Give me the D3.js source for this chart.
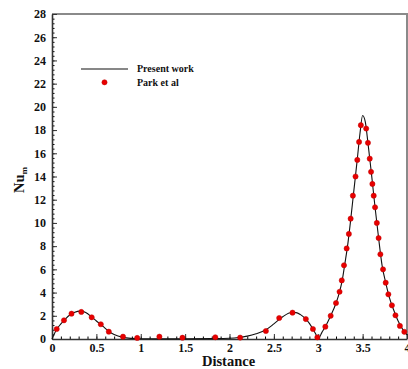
<!DOCTYPE html>
<html>
<head>
    <title>Nu_m vs Distance</title>
    <style type="text/css">
        body { margin: 0; background: #fff; }
        svg text {
            font-family: "Liberation Serif", "Times New Roman", serif;
            font-weight: bold;
        }
    </style>
</head>
<body>
    <script src="https://d3js.org/d3.v7.min.js" type="text/javascript"></script>
    <script type="text/javascript">

        // present work (solid line)
        var curveX = [0, 0.05, 0.1, 0.15, 0.2, 0.25, 0.32, 0.38, 0.45, 0.5, 0.55, 0.6, 0.65, 0.7, 0.8, 0.9, 1.0, 1.5, 1.8, 2.0,
            2.1, 2.2, 2.3, 2.4, 2.5, 2.6, 2.7, 2.75, 2.8, 2.86, 2.9, 2.94, 2.97, 3.0, 3.04, 3.08, 3.14, 3.2, 3.24, 3.27,
            3.3, 3.33, 3.36, 3.4, 3.44, 3.47, 3.5, 3.53, 3.56, 3.6, 3.64, 3.68, 3.72, 3.76, 3.8, 3.85, 3.9, 3.95, 4.0];
        var curveY = [0, 0.8, 1.3, 1.72, 2.07, 2.28, 2.4, 2.28, 1.88, 1.55, 1.25, 0.92, 0.6, 0.38, 0.14, 0.05, 0.02, 0.01, 0.03, 0.07,
            0.13, 0.25, 0.45, 0.75, 1.3, 1.92, 2.28, 2.27, 2.1, 1.72, 1.35, 0.86, 0.45, 0.02, 0.55, 1.06, 2.0, 3.08, 4.06, 5.05,
            6.5, 8.0, 9.9, 12.7, 15.5, 17.7, 19.25, 18.7, 16.9, 14.2, 11.35, 8.7, 6.3, 4.85, 3.6, 2.5, 1.55, 0.85, 0.35];

        // Park et al (red dots)
        var parkX = [0.053, 0.135, 0.22, 0.33, 0.447, 0.55, 0.64, 0.8, 0.96, 1.21, 1.47, 1.84, 2.12,
            2.41, 2.56, 2.71, 2.86, 2.94, 2.99, 3.08, 3.14, 3.2, 3.24, 3.265, 3.29, 3.32, 3.345, 3.365, 3.39,
            3.42, 3.44, 3.46, 3.48, 3.54, 3.56, 3.58, 3.595, 3.61, 3.625, 3.64, 3.66, 3.68, 3.7, 3.73, 3.76,
            3.79, 3.83, 3.87, 3.92, 3.97];
        var parkY = [0.86, 1.61, 2.18, 2.33, 1.87, 1.27, 0.63, 0.2, 0.09, 0.2, 0.11, 0.15, 0.12,
            0.69, 1.81, 2.27, 1.72, 0.86, 0.14, 1.06, 2.0, 3.1, 4.07, 5.05, 6.35, 7.8, 9.05, 10.37, 12.35,
            14.0, 15.43, 16.98, 18.42, 18.13, 16.9, 15.54, 14.4, 13.36, 12.35, 11.35, 10.0, 8.7, 7.3, 6.0, 4.85,
            3.85, 2.9, 2.04, 1.13, 0.62];

        var xTicks = [0, 0.5, 1, 1.5, 2, 2.5, 3, 3.5, 4];
        var yTicks = [0, 2, 4, 6, 8, 10, 12, 14, 16, 18, 20, 22, 24, 26, 28];

        var W = 408, H = 369;
        var m = { left: 52, right: 1, top: 14, bottom: 30 };

        var svg = d3.select('body').append('svg')
            .attr('width', W)
            .attr('height', H);

        var x = d3.scaleLinear().domain([0, 4]).range([m.left, W - m.right]);
        var y = d3.scaleLinear().domain([0, 28]).range([H - m.bottom, m.top]);

        // top / right frame
        svg.append('path')
            .attr('d', 'M' + x(0) + ',' + y(28) + 'H' + x(4) + 'V' + y(0))
            .attr('fill', 'none')
            .attr('stroke', '#8a8a8a')
            .attr('stroke-width', 2);

        // minor ticks
        var xMinor = d3.range(0, 4.0001, 0.1).map(function (d) { return +d.toFixed(2); });
        var yMinor = d3.range(0, 28.0001, 0.4).map(function (d) { return +d.toFixed(2); });

        svg.append('g')
            .attr('transform', 'translate(0,' + y(0) + ')')
            .call(d3.axisBottom(x).tickValues(xMinor).tickSize(-2.5).tickFormat(''))
            .call(function (g) { g.select('.domain').remove(); });
        svg.append('g')
            .attr('transform', 'translate(' + x(0) + ',0)')
            .call(d3.axisLeft(y).tickValues(yMinor).tickSize(-2.5).tickFormat(''))
            .call(function (g) { g.select('.domain').remove(); });

        // major axes
        var gx = svg.append('g')
            .attr('transform', 'translate(0,' + y(0) + ')')
            .call(d3.axisBottom(x).tickValues(xTicks).tickSize(-5).tickSizeOuter(0).tickPadding(4)
                .tickFormat(function (d) { return String(d); }));
        var gy = svg.append('g')
            .attr('transform', 'translate(' + x(0) + ',0)')
            .call(d3.axisLeft(y).tickValues(yTicks).tickSize(-5).tickSizeOuter(0).tickPadding(6));

        [gx, gy].forEach(function (g) {
            g.selectAll('text').attr('font-size', '12px').attr('fill', '#111')
                .style('font-family', '"Liberation Serif", serif').style('font-weight', 'bold');
            g.select('.domain').attr('stroke', '#333').attr('stroke-width', 1.6);
            g.selectAll('.tick line').attr('stroke', '#333');
        });

        // curve
        var line = d3.line()
            .x(function (d, i) { return x(curveX[i]); })
            .y(function (d, i) { return y(curveY[i]); })
            .curve(d3.curveMonotoneX);

        svg.append('path')
            .datum(curveX)
            .attr('d', line)
            .attr('fill', 'none')
            .attr('stroke', '#111')
            .attr('stroke-width', 1.1);

        // dots
        svg.append('g').selectAll('circle')
            .data(parkX)
            .enter().append('circle')
            .attr('cx', function (d) { return x(d); })
            .attr('cy', function (d, i) { return y(parkY[i]); })
            .attr('r', 2.6)
            .attr('fill', '#e80000')
            .attr('stroke', '#c00000')
            .attr('stroke-width', 0.5);

        // axis titles
        svg.append('text')
            .attr('x', (x(0) + x(4)) / 2 - 1)
            .attr('y', 366)
            .attr('text-anchor', 'middle')
            .attr('font-size', '14.5px')
            .attr('fill', '#111')
            .text('Distance');

        var yt = svg.append('text')
            .attr('transform', 'translate(24,180) rotate(-90)')
            .attr('text-anchor', 'middle')
            .attr('font-size', '14.5px')
            .attr('fill', '#111');
        yt.append('tspan').text('Nu');
        yt.append('tspan').attr('font-size', '9px').attr('dy', 3).text('m');

        // legend
        var lg = svg.append('g');
        lg.append('line')
            .attr('x1', 81).attr('x2', 128)
            .attr('y1', 69).attr('y2', 69)
            .attr('stroke', '#111').attr('stroke-width', 1.1);
        lg.append('circle')
            .attr('cx', 104.5).attr('cy', 82.3).attr('r', 2.6)
            .attr('fill', '#e80000').attr('stroke', '#c00000').attr('stroke-width', 0.5);
        lg.append('text').attr('x', 137).attr('y', 72).attr('font-size', '10px').attr('fill', '#111').text('Present work');
        lg.append('text').attr('x', 137).attr('y', 86).attr('font-size', '10px').attr('fill', '#111').text('Park et al');

    </script>
</body>
</html>
